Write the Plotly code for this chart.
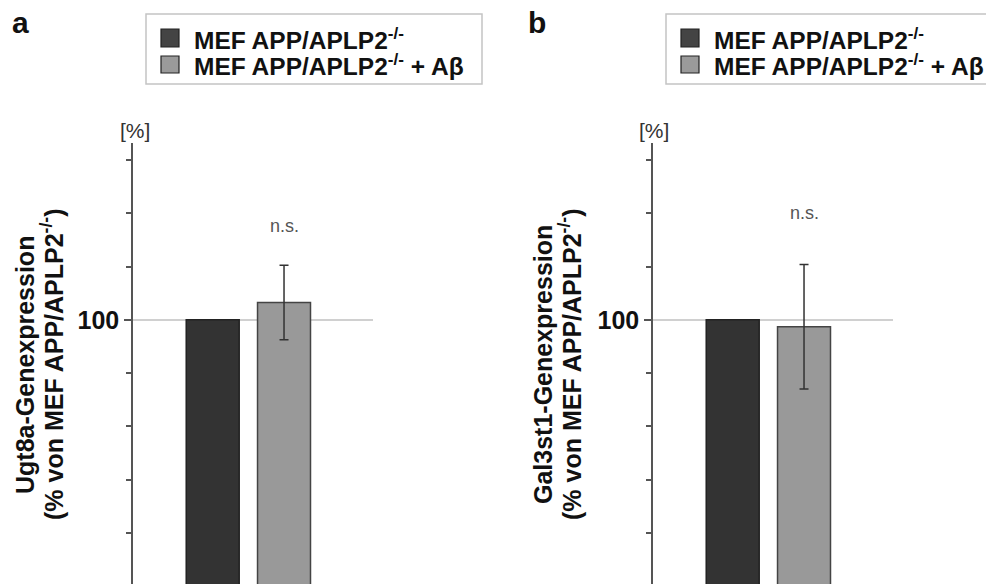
import plotly.graph_objects as go

# ---- data ----
categories = ["MEF APP/APLP2-/-", "MEF APP/APLP2-/- + Aβ"]
legend_labels = ["MEF APP/APLP2<sup>-/-</sup>", "MEF APP/APLP2<sup>-/-</sup> + Aβ"]
ugt8a_values = [100, 106.5]
ugt8a_errors = [0, 14.0]
gal3st1_values = [100, 97.4]
gal3st1_errors = [0, 23.4]
ns_labels = ["n.s.", "n.s."]
ns_positions = [135.2, 140.1]
ytick_vals = [100]
ytick_text = ["100"]
panel_letters = ["a", "b"]
ytitles_line1 = ["Ugt8a-Genexpression", "Gal3st1-Genexpression"]
ytitle_line2 = "(% von MEF APP/APLP2<sup>-/-</sup>)"

FONT = "Liberation Sans, Arial, sans-serif"
W, H = 986, 584
bar_colors = ["#333333", "#999999"]
bar_lines = ["#222222", "#444444"]
swatch_colors = ["#444444", "#9a9a9a"]


def sx(x):
    return x / W


def sy(y):
    return (H - y) / H


fig = go.Figure()

panels = [
    ("x", "y", ugt8a_values, ugt8a_errors),
    ("x2", "y2", gal3st1_values, gal3st1_errors),
]
for xa, ya, vals, errs in panels:
    for i in range(2):
        tr = dict(
            x=[categories[i]], y=[vals[i]], name=categories[i],
            xaxis=xa, yaxis=ya, width=0.743, showlegend=False,
            marker=dict(color=bar_colors[i], line=dict(color=bar_lines[i], width=1.5)),
            hoverinfo="skip",
        )
        if errs[i] > 0:
            tr["error_y"] = dict(type="data", array=[errs[i]], visible=True,
                                 color="#333333", thickness=1.5, width=4.5)
        fig.add_trace(go.Bar(**tr))

ydom = [0, sy(143)]
xdoms = [[sx(133), sx(373)], [sx(653), sx(893)]]


def xaxis_cfg(dom, anchor):
    return dict(domain=dom, anchor=anchor, type="category", categoryarray=categories,
                categoryorder="array", range=[-1.118, 2.248], showticklabels=False,
                showline=False, showgrid=False, zeroline=False, ticks="")


def yaxis_cfg(anchor):
    return dict(domain=ydom, anchor=anchor, range=[0.75, 166.4],
                tickvals=ytick_vals, ticktext=ytick_text, ticks="outside", ticklen=7,
                tickwidth=1.5, tickcolor="#555555", showline=True, linecolor="#555555",
                linewidth=1.5, showgrid=True, gridcolor="#d0d0d0", gridwidth=1.5,
                zeroline=False,
                tickfont=dict(family=FONT, size=25, color="#111111", weight="bold"),
                minor=dict(tick0=0, dtick=20, ticks="outside", ticklen=5, tickwidth=1.5,
                           tickcolor="#555555", showgrid=False))


annotations = []
shapes = []
# panel letters
for letter, xx in zip(panel_letters, [20, 537]):
    annotations.append(dict(text=letter, x=sx(xx), y=sy(23), xref="paper", yref="paper",
                            showarrow=False, xanchor="center", yanchor="middle",
                            font=dict(family=FONT, size=30, color="#111111", weight="bold")))
# [%] labels
for xx in [135, 654]:
    annotations.append(dict(text="[%]", x=sx(xx), y=sy(130), xref="paper", yref="paper",
                            showarrow=False, xanchor="center", yanchor="middle",
                            font=dict(family=FONT, size=21, color="#333333")))
# n.s.
for xr, yr, lab, pos in [("x", "y", ns_labels[0], ns_positions[0]),
                         ("x2", "y2", ns_labels[1], ns_positions[1])]:
    annotations.append(dict(text=lab, x=categories[1], y=pos, xref=xr, yref=yr,
                            showarrow=False, xanchor="center", yanchor="middle",
                            font=dict(family=FONT, size=18, color="#555555")))
# y titles
for t1, x1, x2 in [(ytitles_line1[0], 25, 52), (ytitles_line1[1], 543, 570)]:
    annotations.append(dict(text=t1, x=sx(x1), y=sy(365), xref="paper", yref="paper",
                            showarrow=False, textangle=-90, xanchor="center", yanchor="middle",
                            font=dict(family=FONT, size=25, color="#111111", weight="bold")))
    annotations.append(dict(text=ytitle_line2, x=sx(x2), y=sy(365), xref="paper", yref="paper",
                            showarrow=False, textangle=-90, xanchor="center", yanchor="middle",
                            font=dict(family=FONT, size=25, color="#111111", weight="bold")))

# legends (one per panel)
for bx, bright in [(146, 482), (666, 1010)]:
    shapes.append(dict(type="rect", xref="paper", yref="paper",
                       x0=sx(bx), x1=sx(bright), y0=sy(84), y1=sy(14),
                       line=dict(color="#c4c4c4", width=1.5), fillcolor="white", layer="below"))
    for i, (rowy, top, bot) in enumerate([(38, 29, 47), (64.5, 56, 73)]):
        shapes.append(dict(type="rect", xref="paper", yref="paper",
                           x0=sx(bx + 15), x1=sx(bx + 33), y0=sy(bot), y1=sy(top),
                           line=dict(color="#222222", width=1.2), fillcolor=swatch_colors[i]))
        annotations.append(dict(text=legend_labels[i], x=sx(bx + 46), y=sy(rowy),
                                xref="paper", yref="paper", showarrow=False,
                                xanchor="left", yanchor="middle",
                                font=dict(family=FONT, size=24.5, color="#111111", weight="bold")))

fig.update_layout(
    width=W, height=H,
    margin=dict(l=0, r=0, t=0, b=0, autoexpand=False),
    paper_bgcolor="white", plot_bgcolor="white",
    barmode="overlay", showlegend=False,
    xaxis=xaxis_cfg(xdoms[0], "y"), yaxis=yaxis_cfg("x"),
    xaxis2=xaxis_cfg(xdoms[1], "y2"), yaxis2=yaxis_cfg("x2"),
    annotations=annotations, shapes=shapes,
)

fig.write_html(
    "out.html",
    config={"displayModeBar": False},
    post_script="document.body.style.margin='0';document.body.style.overflow='hidden';",
)
